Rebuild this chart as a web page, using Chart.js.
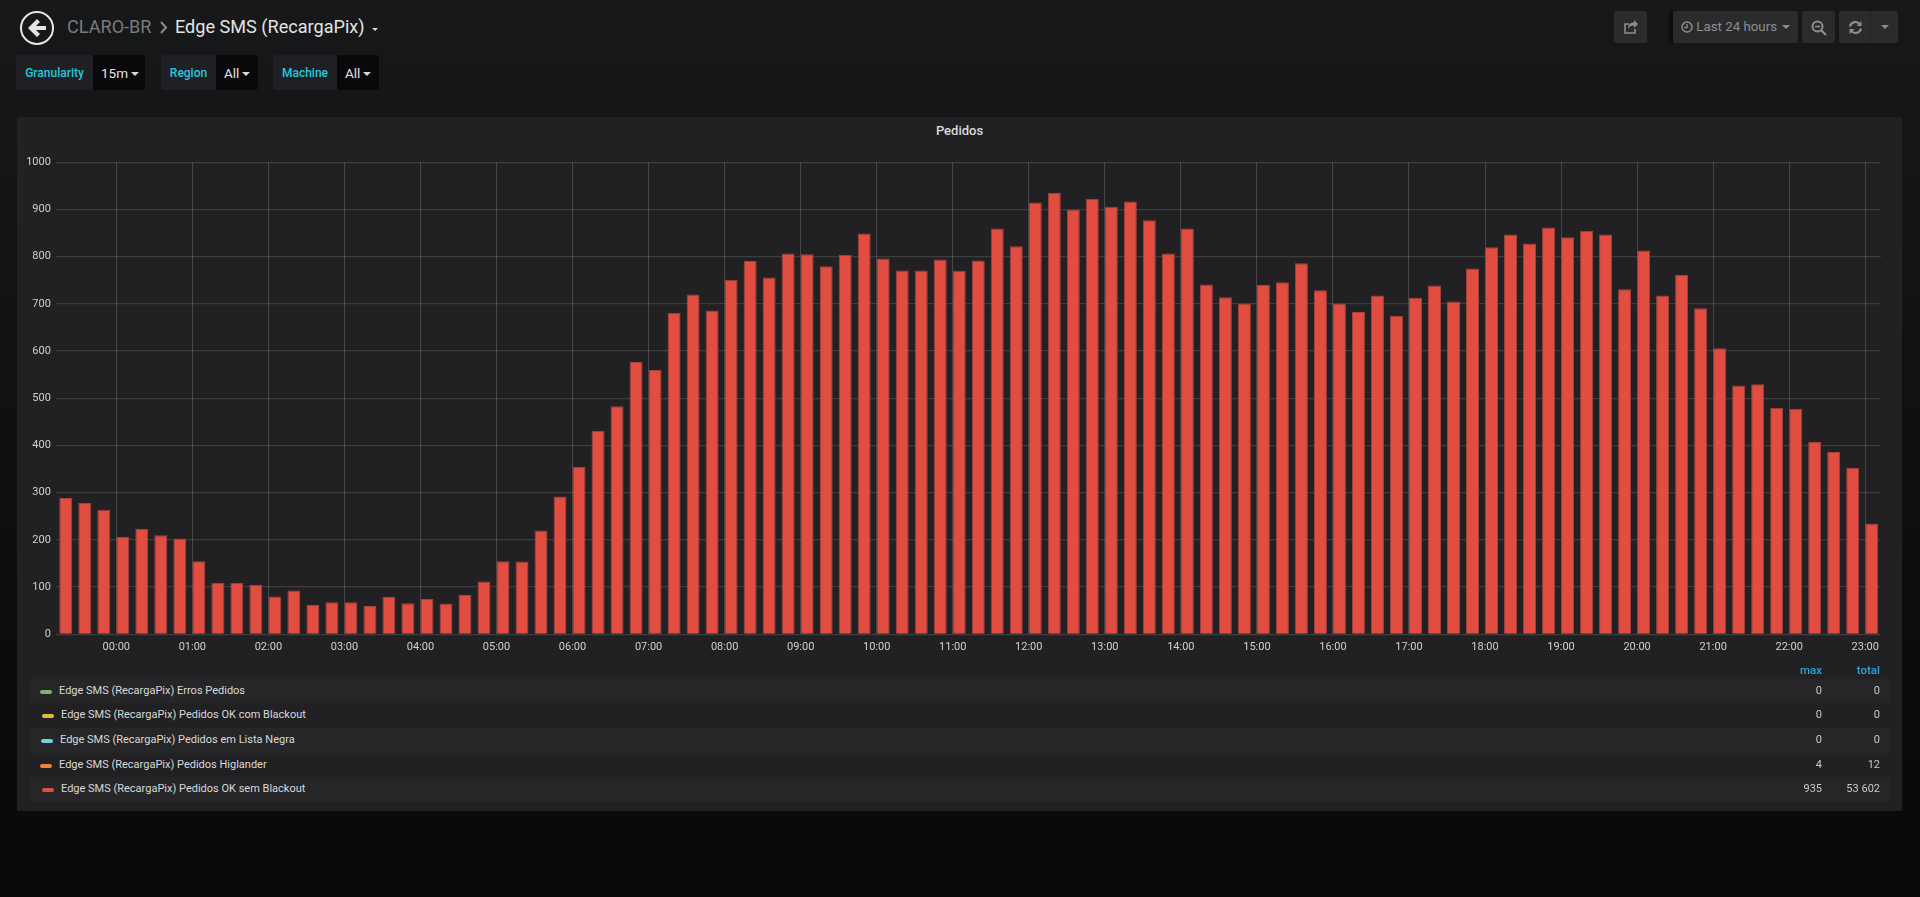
<!DOCTYPE html>
<html>
<head>
<meta charset="utf-8">
<title>Edge SMS (RecargaPix)</title>
<script src="https://cdn.jsdelivr.net/npm/chart.js@4/dist/chart.umd.min.js"></script>
<style>
html, body { margin: 0; padding: 0; width: 1920px; height: 897px; overflow: hidden; }
body { background: linear-gradient(#17181a, #0a0a0c 85%); font-family: Roboto, sans-serif; color: #d8d9da; position: relative; }
.abs { position: absolute; white-space: nowrap; }
.btn { position: absolute; top: 11px; height: 32px; background: #2b2b2e; border-radius: 2px; color: #8e8e8e; font-size: 13.3px; line-height: 32px; box-sizing: border-box; }
.varLabel { position: absolute; top: 55px; height: 35px; background: #1f2023; border-radius: 3px 0 0 3px; color: #28c6dc; font-size: 12px; font-weight: 500; line-height: 36px; text-align: center; }
.varValue { position: absolute; top: 55px; height: 35px; background: #09090b; border-radius: 0 3px 3px 0; color: #e3e3e3; font-size: 13.5px; line-height: 37px; }
.caret { display: inline-block; border-left: 4px solid transparent; border-right: 4px solid transparent; border-top: 4px solid #d8d9da; vertical-align: middle; margin-left: 3px; }
#panel { position: absolute; left: 17px; top: 117px; width: 1885px; height: 694px; background: #212124; border-radius: 2px; }
#panelTitle { position: absolute; left: 17px; top: 122px; width: 1885px; text-align: center; font-size: 13px; font-weight: 500; line-height: 18px; color: #d8d9da; }
#chartBox { position: absolute; left: 17px; top: 117px; width: 1885px; height: 548px; }
.row { position: absolute; left: 30px; width: 1860px; font-size: 11px; }
.row span { position: absolute; white-space: nowrap; line-height: 24px; }
.icon { height: 4px; width: 12px; border-radius: 2px; }
.legHead { position: absolute; top: 663px; color: #2aa5dc; font-size: 11.5px; font-weight: 500; }
</style>
</head>
<body>
<svg class="abs" style="left:19px;top:10px" width="36" height="36" viewBox="0 0 36 36">
  <circle cx="18" cy="18" r="16" fill="none" stroke="#e6e6e6" stroke-width="2"/>
  <path d="M18 9 L9 18 L18 27 L21 24 L17 20 L27 20 L27 16 L17 16 L21 12 Z" fill="#e6e6e6"/>
</svg>
<div class="abs" style="left:67px;top:16px;font-size:18.1px;color:#7b7b7b">CLARO-BR</div>
<svg class="abs" style="left:159px;top:21px" width="9" height="13" viewBox="0 0 9 13"><path d="M2 1 L7 6.5 L2 12" fill="none" stroke="#8a8a8a" stroke-width="2"/></svg>
<div class="abs" style="left:175px;top:16px;font-size:18.1px;color:#e4e4e4">Edge SMS (RecargaPix)</div>
<div class="abs" style="left:372px;top:28px;width:0;height:0;border-left:3px solid transparent;border-right:3px solid transparent;border-top:3px solid #d8d9da"></div>

<div class="varLabel" style="left:16px;width:77px">Granularity</div>
<div class="varValue" style="left:93px;width:52px;padding-left:8px;box-sizing:border-box">15m<i class="caret"></i></div>
<div class="varLabel" style="left:161px;width:55px">Region</div>
<div class="varValue" style="left:216px;width:42px;padding-left:8px;box-sizing:border-box">All<i class="caret"></i></div>
<div class="varLabel" style="left:273px;width:64px">Machine</div>
<div class="varValue" style="left:337px;width:42px;padding-left:8px;box-sizing:border-box">All<i class="caret"></i></div>

<div class="btn" style="left:1614px;width:33px">
  <svg class="abs" style="left:9px;top:8px" width="16" height="16" viewBox="0 0 16 16"><path d="M11 1 L15 5 L11 9 V6.5 C8 6.5 6 7.5 5 10 C5 6 7 3.5 11 3.5 Z" fill="#8e8e8e"/><path d="M12 10 V14 H2 V5 H6" fill="none" stroke="#8e8e8e" stroke-width="1.6"/></svg>
</div>
<div class="abs" style="left:1669px;top:11px;width:4px;height:32px;background:#0d0e10"></div>
<div class="btn" style="left:1673px;width:125px;padding-left:8px">
  <svg style="vertical-align:-2px" width="12" height="12" viewBox="0 0 12 12"><circle cx="6" cy="6" r="5" fill="none" stroke="#8e8e8e" stroke-width="1.5"/><path d="M6 3 V6.5 H3.5" fill="none" stroke="#8e8e8e" stroke-width="1.3"/></svg>
  Last 24 hours<i class="caret" style="border-top-color:#8e8e8e;margin-left:5px"></i>
</div>
<div class="btn" style="left:1802px;width:33px">
  <svg class="abs" style="left:9px;top:9px" width="16" height="16" viewBox="0 0 16 16"><circle cx="6.5" cy="6.5" r="5" fill="none" stroke="#8e8e8e" stroke-width="2"/><path d="M10.5 10.5 L15 15" stroke="#8e8e8e" stroke-width="2.2"/><path d="M4 6.5 H9" stroke="#8e8e8e" stroke-width="1.6"/></svg>
</div>
<div class="btn" style="left:1839px;width:31px;border-radius:2px 0 0 2px">
  <svg class="abs" style="left:9px;top:9px" width="15" height="15" viewBox="0 0 15 15"><path d="M2 6.5 A5.5 5.5 0 0 1 12 4.5" fill="none" stroke="#8e8e8e" stroke-width="2.2"/><path d="M13.5 1 V6 H8.5 Z" fill="#8e8e8e"/><path d="M13 8.5 A5.5 5.5 0 0 1 3 10.5" fill="none" stroke="#8e8e8e" stroke-width="2.2"/><path d="M1.5 14 V9 H6.5 Z" fill="#8e8e8e"/></svg>
</div>
<div class="btn" style="left:1870px;width:28px;border-radius:0 2px 2px 0;border-left:1px solid #232326;text-align:center">
  <i class="caret" style="border-top-color:#8e8e8e;margin-left:0"></i>
</div>

<div id="panel"></div>
<div id="panelTitle">Pedidos</div>
<div id="chartBox"><canvas id="pedidosChart"></canvas></div>
<div class="legHead" style="left:1790px;width:32px;text-align:right">max</div>
<div class="legHead" style="left:1840px;width:40px;text-align:right">total</div>
<div id="legend"></div>

<script>
// One label per 15m slot, 23:15 of the day before through 23:00
const categories = [
    '23:15','23:30','23:45',
    '00:00','00:15','00:30','00:45','01:00','01:15','01:30','01:45',
    '02:00','02:15','02:30','02:45','03:00','03:15','03:30','03:45',
    '04:00','04:15','04:30','04:45','05:00','05:15','05:30','05:45',
    '06:00','06:15','06:30','06:45','07:00','07:15','07:30','07:45',
    '08:00','08:15','08:30','08:45','09:00','09:15','09:30','09:45',
    '10:00','10:15','10:30','10:45','11:00','11:15','11:30','11:45',
    '12:00','12:15','12:30','12:45','13:00','13:15','13:30','13:45',
    '14:00','14:15','14:30','14:45','15:00','15:15','15:30','15:45',
    '16:00','16:15','16:30','16:45','17:00','17:15','17:30','17:45',
    '18:00','18:15','18:30','18:45','19:00','19:15','19:30','19:45',
    '20:00','20:15','20:30','20:45','21:00','21:15','21:30','21:45',
    '22:00','22:15','22:30','22:45','23:00'
];
const pedidosOk = [
    289, 278, 264,
    206, 223, 210, 203, 155, 109, 109, 105,
    80, 93, 62, 68, 68, 60, 79, 66,
    75, 65, 83, 112, 155, 154, 220, 292,
    355, 431, 483, 577, 560, 681, 720, 686,
    751, 791, 756, 807, 805, 780, 804, 849,
    796, 771, 771, 794, 770, 792, 860, 822,
    915, 935, 900, 923, 906, 917, 877, 807,
    860, 741, 714, 701, 740, 746, 786, 729,
    701, 683, 718, 675, 713, 739, 705, 775,
    820, 847, 828, 862, 841, 855, 847, 731,
    813, 718, 761, 691, 606, 527, 530, 480,
    478, 408, 386, 353, 235
];
const hourLabels = ['00:00','01:00','02:00','03:00','04:00','05:00','06:00','07:00','08:00','09:00','10:00','11:00',
    '12:00','13:00','14:00','15:00','16:00','17:00','18:00','19:00','20:00','21:00','22:00','23:00'];
const yTicks = [0, 100, 200, 300, 400, 500, 600, 700, 800, 900, 1000];

// Legend table
const seriesNames = [
    'Edge SMS (RecargaPix) Erros Pedidos',
    'Edge SMS (RecargaPix) Pedidos OK com Blackout',
    'Edge SMS (RecargaPix) Pedidos em Lista Negra',
    'Edge SMS (RecargaPix) Pedidos Higlander',
    'Edge SMS (RecargaPix) Pedidos OK sem Blackout'
];
const seriesColors = ['#7eb26d', '#eab839', '#6ed0e0', '#ef843c', '#e24d42'];
const seriesMax = ['0', '0', '0', '4', '935'];
const seriesTotal = ['0', '0', '0', '12', '53 602'];

// Bars start at their time and run to the right, so the center sits a bit past it
const BAR_CENTER_SHIFT = 5.13;

function toMinutes(label, i) {
    const [h, m] = label.split(':').map(Number);
    const minutes = h * 60 + m;
    return i < 3 ? minutes - 1440 : minutes;
}

function buildLegend() {
    const rowTops = [679, 703, 728, 753, 777];
    const rowHeights = [24, 25, 25, 24, 25];
    const textLeft = [29, 31, 30, 29, 31];
    const iconLeft = [10, 12, 11, 10, 12];
    const box = document.getElementById('legend');
    seriesNames.forEach((name, i) => {
        const row = document.createElement('div');
        row.className = 'row';
        row.style.top = rowTops[i] + 'px';
        row.style.height = rowHeights[i] + 'px';
        row.style.background = i % 2 === 0 ? '#262628' : 'transparent';
        row.innerHTML =
            `<span class="icon" style="left:${iconLeft[i]}px;top:11px;background:${seriesColors[i]}"></span>` +
            `<span style="left:${textLeft[i]}px;top:0">${name}</span>` +
            `<span style="right:68px;top:0;color:#c8c8c8">${seriesMax[i]}</span>` +
            `<span style="right:10px;top:0;color:#c8c8c8">${seriesTotal[i]}</span>`;
        box.appendChild(row);
    });
}

function createPedidosChart() {
    const ctx = document.getElementById('pedidosChart').getContext('2d');
    return new Chart(ctx, {
        type: 'bar',
        data: {
            datasets: [{
                label: seriesNames[4],
                data: categories.map((label, i) => ({ x: toMinutes(label, i) + BAR_CENTER_SHIFT, y: pedidosOk[i] })),
                backgroundColor: '#e24d42',
                borderColor: '#a5423b',
                borderWidth: 1,
                barThickness: 13,
                inflateAmount: 0
            }]
        },
        options: {
            responsive: true,
            maintainAspectRatio: false,
            animation: false,
            layout: { padding: { left: 0, right: 21.2, top: 45.3, bottom: 0 } },
            plugins: {
                legend: { display: false },
                tooltip: { enabled: false }
            },
            scales: {
                x: {
                    type: 'linear',
                    offset: false,
                    min: -47.66,
                    max: 1392.3,
                    border: { display: false },
                    grid: { offset: false, color: 'rgba(255,255,255,0.17)', lineWidth: 1, drawTicks: false },
                    afterFit(scale) { scale.height = 30.7; },
                    afterBuildTicks(scale) {
                        scale.ticks = hourLabels.map(label => ({ value: toMinutes(label, 3) }));
                    },
                    ticks: {
                        autoSkip: false,
                        maxRotation: 0,
                        padding: 6,
                        color: '#d0d0d0',
                        font: { family: 'Roboto', size: 11 },
                        callback: (value, index) => hourLabels[index]
                    }
                },
                y: {
                    min: yTicks[0],
                    max: yTicks[yTicks.length - 1],
                    border: { display: false },
                    grid: { color: 'rgba(255,255,255,0.13)', lineWidth: 1.3, drawTicks: false },
                    afterFit(scale) { scale.width = 38.9; },
                    ticks: {
                        stepSize: 100,
                        padding: 5,
                        color: '#d0d0d0',
                        font: { family: 'Roboto', size: 11 },
                        callback: value => String(value)
                    }
                }
            }
        }
    });
}

buildLegend();
createPedidosChart();
</script>
</body>
</html>
